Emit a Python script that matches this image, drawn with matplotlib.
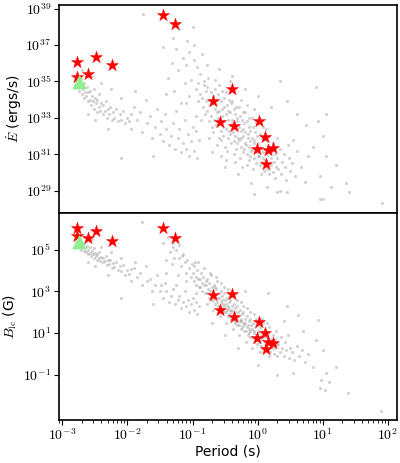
import numpy as np
import matplotlib
matplotlib.use('Agg')
import matplotlib.pyplot as plt
from matplotlib.ticker import FixedLocator, FuncFormatter, LogLocator, NullFormatter

plt.rcParams['mathtext.fontset'] = 'cm'

# Red stars (period s, Edot erg/s, B_lc G)
star_P = [1.66e-3, 1.66e-3, 2.5e-3, 3.3e-3, 5.8e-3, 0.0354, 0.0535,
          0.404, 0.207, 0.269, 0.434, 1.04, 1.28, 0.99, 1.44, 1.72, 1.36]
star_logE = [36.04, 35.22, 35.40, 36.34, 35.91, 38.66, 38.15,
             34.58, 33.92, 32.76, 32.56, 32.84, 31.94, 31.30, 31.23, 31.35, 30.47]
star_logB = [6.04, 5.64, 5.53, 5.90, 5.42, 6.01, 5.56,
             2.86, 2.81, 2.09, 1.79, 1.55, 1.00, 0.77, 0.60, 0.55, 0.24]

# Green triangle
tri_P = [1.8e-3]
tri_logE = [34.95]
tri_logB = [5.37]

# Gray pulsar cloud, top panel (log P, log Edot)
msp_top = [(-2.76, 34.9), (-2.74, 34.5), (-2.72, 34.7), (-2.71, 35.2), (-2.70, 34.3), (-2.68, 34.6),
           (-2.67, 34.1), (-2.66, 34.9), (-2.65, 34.4), (-2.63, 34.2), (-2.62, 34.7), (-2.61, 33.9),
           (-2.60, 34.4), (-2.58, 34.0), (-2.57, 34.5), (-2.56, 33.7), (-2.55, 34.2), (-2.53, 33.9),
           (-2.52, 34.6), (-2.51, 33.5), (-2.50, 34.1), (-2.48, 33.8), (-2.47, 33.3), (-2.46, 34.0),
           (-2.44, 33.6), (-2.43, 34.3), (-2.42, 33.4), (-2.40, 33.8), (-2.38, 33.2), (-2.37, 33.7),
           (-2.35, 33.4), (-2.33, 33.9), (-2.32, 33.0), (-2.30, 33.5), (-2.28, 33.2), (-2.26, 33.6),
           (-2.24, 32.9), (-2.22, 33.3), (-2.20, 33.0), (-2.18, 33.5), (-2.15, 32.8), (-2.12, 33.2),
           (-2.10, 32.9), (-2.07, 33.4), (-2.04, 32.7), (-2.01, 33.0), (-1.98, 32.8), (-1.95, 33.2),
           (-2.70, 35.6), (-2.55, 35.3), (-2.40, 34.9), (-2.25, 34.6), (-2.50, 32.9), (-2.30, 32.4),
           (-2.60, 33.2), (-2.10, 34.1)]
mid_top = [(-1.95, 32.4), (-1.90, 33.6), (-1.85, 32.9), (-1.80, 33.3), (-1.78, 32.2), (-1.72, 34.0),
           (-1.70, 32.7), (-1.65, 33.1), (-1.62, 31.9), (-1.58, 32.5), (-1.55, 33.5), (-1.50, 32.1),
           (-1.48, 32.8), (-1.45, 31.7), (-1.42, 33.2), (-1.40, 32.4), (-1.36, 31.5), (-1.33, 32.0),
           (-1.30, 32.7), (-1.27, 31.3), (-1.25, 33.4), (-1.22, 31.9), (-1.20, 32.4), (-1.17, 31.1),
           (-1.15, 31.6), (-1.12, 32.9), (-1.10, 31.3), (-1.07, 32.1), (-1.05, 30.9), (-1.02, 31.7),
           (-1.00, 32.5), (-0.98, 31.2), (-0.95, 33.1), (-0.93, 30.8), (-0.90, 31.8), (-1.60, 30.9),
           (-2.10, 30.8), (-1.88, 34.5), (-1.40, 34.3), (-1.10, 33.8), (-0.95, 32.3)]
young_top = [(-1.76, 38.7), (-1.30, 37.4), (-1.25, 36.8), (-1.20, 37.9), (-1.15, 36.3), (-1.10, 35.9),
             (-1.08, 37.2), (-1.05, 36.6), (-1.22, 35.6), (-1.32, 36.0), (-1.12, 34.9), (-1.00, 38.0),
             (-1.28, 34.5), (-1.18, 33.8), (-1.38, 35.2), (-1.45, 36.9)]
main_top = [(-1.02, 35.1), (-0.98, 36.2), (-0.95, 34.6), (-0.93, 35.8), (-0.91, 33.9), (-1.05, 34.2),
            (-0.97, 37.0), (-0.92, 34.9), (-0.88, 35.4), (-0.86, 34.1), (-0.85, 36.5), (-0.84, 33.6),
            (-0.83, 34.8), (-0.82, 35.0), (-0.81, 33.2), (-0.80, 34.5), (-0.87, 32.9), (-0.89, 34.3),
            (-0.79, 33.9), (-0.78, 34.7), (-0.77, 33.4), (-0.76, 35.2), (-0.75, 34.0), (-0.74, 32.8),
            (-0.73, 33.7), (-0.72, 34.4), (-0.71, 33.1), (-0.70, 32.5), (-0.78, 35.9), (-0.74, 31.9),
            (-0.69, 33.8), (-0.68, 34.2), (-0.67, 32.9), (-0.66, 33.5), (-0.65, 34.6), (-0.64, 32.6),
            (-0.63, 33.3), (-0.62, 34.0), (-0.61, 33.0), (-0.60, 31.9), (-0.68, 32.2), (-0.66, 35.1),
            (-0.63, 31.5), (-0.61, 34.3), (-0.59, 33.4), (-0.58, 32.7), (-0.57, 33.9), (-0.56, 32.3),
            (-0.55, 33.1), (-0.54, 34.5), (-0.53, 32.0), (-0.52, 33.6), (-0.51, 32.8), (-0.50, 31.4),
            (-0.59, 34.8), (-0.57, 31.8), (-0.55, 33.5), (-0.53, 32.5), (-0.51, 34.1), (-0.56, 30.9),
            (-0.49, 33.2), (-0.48, 32.4), (-0.47, 33.7), (-0.46, 31.9), (-0.45, 32.9), (-0.44, 34.0),
            (-0.43, 32.1), (-0.42, 33.3), (-0.41, 31.6), (-0.40, 32.7), (-0.49, 34.4), (-0.47, 31.2),
            (-0.45, 33.4), (-0.43, 32.6), (-0.41, 33.8), (-0.48, 30.7), (-0.44, 32.3), (-0.42, 35.0),
            (-0.39, 32.9), (-0.38, 32.2), (-0.37, 33.5), (-0.36, 31.7), (-0.35, 32.6), (-0.34, 33.2),
            (-0.33, 31.3), (-0.32, 32.4), (-0.31, 33.0), (-0.30, 31.9), (-0.39, 33.9), (-0.37, 31.0),
            (-0.35, 32.0), (-0.33, 33.6), (-0.31, 32.8), (-0.36, 34.4), (-0.34, 30.6), (-0.32, 31.6),
            (-0.29, 32.5), (-0.28, 31.8), (-0.27, 33.1), (-0.26, 31.4), (-0.25, 32.3), (-0.24, 32.9),
            (-0.23, 31.1), (-0.22, 32.0), (-0.21, 32.7), (-0.20, 31.6), (-0.29, 33.6), (-0.27, 30.8),
            (-0.25, 31.9), (-0.23, 33.3), (-0.21, 31.3), (-0.26, 34.0), (-0.24, 30.3), (-0.22, 32.4),
            (-0.19, 32.2), (-0.18, 31.5), (-0.17, 32.8), (-0.16, 31.0), (-0.15, 31.9), (-0.14, 32.5),
            (-0.13, 30.7), (-0.12, 31.7), (-0.11, 32.3), (-0.10, 31.2), (-0.19, 33.3), (-0.17, 30.4),
            (-0.15, 32.1), (-0.13, 33.0), (-0.11, 30.9), (-0.16, 33.7), (-0.14, 31.4),
            (-0.09, 31.9), (-0.08, 31.3), (-0.07, 32.5), (-0.06, 30.8), (-0.05, 31.6), (-0.04, 32.2),
            (-0.03, 30.5), (-0.02, 31.4), (-0.01, 32.0), (0.00, 30.9), (-0.09, 33.0), (-0.07, 30.2),
            (-0.05, 31.8), (-0.03, 32.7), (-0.01, 31.1), (-0.06, 33.5),
            (0.01, 31.6), (0.02, 30.9), (0.03, 32.1), (0.04, 30.4), (0.05, 31.3), (0.06, 31.9),
            (0.07, 30.6), (0.08, 31.1), (0.09, 32.5), (0.10, 30.1), (0.03, 31.4), (0.05, 29.9),
            (0.07, 32.8), (0.09, 30.8),
            (0.11, 31.3), (0.12, 30.7), (0.13, 31.8), (0.14, 30.2), (0.15, 31.0), (0.16, 31.5),
            (0.17, 30.5), (0.18, 29.9), (0.19, 31.2), (0.20, 30.8), (0.13, 32.4), (0.17, 32.0),
            (0.21, 30.4), (0.22, 31.1), (0.23, 30.0), (0.24, 31.6), (0.25, 30.6), (0.26, 29.7),
            (0.27, 31.0), (0.28, 30.3), (0.29, 31.9), (0.30, 30.8),
            (0.32, 30.2), (0.34, 31.3), (0.36, 29.9), (0.38, 30.6), (0.40, 31.0), (0.42, 30.3),
            (0.44, 29.6), (0.46, 31.5), (0.48, 30.8), (0.50, 30.1),
            (0.53, 30.5), (0.57, 29.8), (0.61, 31.2), (0.66, 30.3), (0.72, 29.5), (0.78, 30.9),
            (0.55, 31.8)]
sparse_top = [(-0.60, 35.7), (-0.40, 35.3), (-0.20, 34.6), (0.00, 34.2), (0.20, 33.6), (0.35, 35.0),
              (0.60, 33.2), (0.90, 34.7), (0.45, 33.9), (0.75, 32.6), (1.00, 32.0), (0.85, 31.4),
              (1.05, 30.9), (-0.70, 31.1), (-0.50, 30.3), (-0.30, 29.9), (-0.10, 29.4), (0.15, 29.2),
              (0.35, 29.0), (-0.05, 28.8), (0.95, 29.8), (1.12, 29.2), (1.20, 30.4), (1.35, 29.4),
              (1.05, 33.2), (0.92, 32.8), (0.95, 28.53), (1.01, 28.53), (1.91, 28.35), (1.40, 28.9),
              (0.29, 28.93), (0.45, 28.93)]

# Gray pulsar cloud, bottom panel (log P, log B_lc)
msp_bot = [(-2.76, 5.3), (-2.74, 5.1), (-2.72, 5.4), (-2.71, 5.0), (-2.70, 5.25), (-2.68, 5.15),
           (-2.67, 4.95), (-2.66, 5.3), (-2.65, 5.05), (-2.63, 4.9), (-2.62, 5.15), (-2.61, 4.8),
           (-2.60, 5.0), (-2.58, 4.85), (-2.57, 5.1), (-2.56, 4.7), (-2.55, 4.95), (-2.53, 4.8),
           (-2.52, 5.05), (-2.51, 4.6), (-2.50, 4.85), (-2.48, 4.7), (-2.47, 4.5), (-2.46, 4.8),
           (-2.44, 4.6), (-2.43, 4.9), (-2.42, 4.45), (-2.40, 4.65), (-2.38, 4.4), (-2.37, 4.6),
           (-2.35, 4.45), (-2.33, 4.7), (-2.32, 4.25), (-2.30, 4.5), (-2.28, 4.3), (-2.26, 4.5),
           (-2.24, 4.1), (-2.22, 4.35), (-2.20, 4.15), (-2.18, 4.4), (-2.15, 4.0), (-2.12, 4.2),
           (-2.10, 3.95), (-2.07, 4.25), (-2.04, 3.8), (-2.01, 4.0), (-1.98, 3.85), (-1.95, 4.05),
           (-2.70, 5.7), (-2.55, 5.5), (-2.40, 5.1), (-2.25, 4.9), (-2.50, 4.2), (-2.30, 3.8),
           (-2.60, 4.4), (-2.10, 4.6)]
mid_bot = [(-1.95, 3.5), (-1.90, 4.1), (-1.85, 3.7), (-1.80, 3.9), (-1.78, 3.3), (-1.72, 4.2),
           (-1.70, 3.5), (-1.65, 3.6), (-1.62, 3.0), (-1.58, 3.3), (-1.55, 3.8), (-1.50, 3.0),
           (-1.48, 3.3), (-1.45, 2.7), (-1.42, 3.4), (-1.40, 3.0), (-1.36, 2.5), (-1.33, 2.8),
           (-1.30, 3.1), (-1.27, 2.4), (-1.25, 3.3), (-1.22, 2.6), (-1.20, 2.8), (-1.17, 2.2),
           (-1.15, 2.5), (-1.12, 3.0), (-1.10, 2.3), (-1.07, 2.6), (-1.05, 2.0), (-1.02, 2.4),
           (-1.00, 2.7), (-0.98, 2.1), (-0.95, 2.9), (-0.93, 1.9), (-0.90, 2.3), (-1.60, 2.4),
           (-2.10, 2.66), (-1.88, 4.4), (-1.40, 3.9), (-1.10, 3.5), (-0.95, 2.5)]
young_bot = [(-1.77, 6.34), (-1.45, 5.3), (-1.38, 5.6), (-1.35, 4.9), (-1.30, 5.1), (-1.28, 4.6),
             (-1.25, 5.5), (-1.20, 5.2), (-1.16, 4.7), (-1.32, 4.3), (-1.40, 4.5)]
main_bot = [(-1.25, 5.0), (-1.20, 4.6), (-1.18, 4.2), (-1.15, 4.8), (-1.12, 4.4), (-1.10, 3.9),
            (-1.08, 4.5), (-1.05, 4.1), (-1.03, 3.7), (-1.01, 4.3), (-1.30, 5.3), (-1.22, 3.8),
            (-0.99, 3.9), (-0.98, 3.5), (-0.97, 4.2), (-0.95, 3.7), (-0.94, 3.3), (-0.93, 4.0),
            (-0.92, 3.6), (-0.91, 4.4), (-0.90, 3.2),
            (-0.89, 3.6), (-0.88, 3.2), (-0.87, 3.9), (-0.86, 3.4), (-0.85, 3.0), (-0.84, 3.7),
            (-0.83, 3.3), (-0.82, 4.1), (-0.81, 2.9), (-0.80, 3.5),
            (-0.79, 3.3), (-0.78, 2.9), (-0.77, 3.6), (-0.76, 3.1), (-0.75, 2.7), (-0.74, 3.4),
            (-0.73, 3.0), (-0.72, 3.8), (-0.71, 2.6), (-0.70, 3.2), (-0.77, 2.4), (-0.73, 3.9),
            (-0.69, 3.0), (-0.68, 2.6), (-0.67, 3.3), (-0.66, 2.8), (-0.65, 2.4), (-0.64, 3.1),
            (-0.63, 2.7), (-0.62, 3.5), (-0.61, 2.3), (-0.60, 2.9), (-0.68, 2.1), (-0.64, 3.7),
            (-0.62, 2.5), (-0.66, 3.2),
            (-0.59, 2.7), (-0.58, 2.3), (-0.57, 3.0), (-0.56, 2.5), (-0.55, 2.1), (-0.54, 2.8),
            (-0.53, 2.4), (-0.52, 3.2), (-0.51, 2.0), (-0.50, 2.6), (-0.58, 1.8), (-0.56, 3.4),
            (-0.54, 2.2), (-0.52, 2.9), (-0.55, 2.6), (-0.51, 2.3),
            (-0.49, 2.4), (-0.48, 2.0), (-0.47, 2.7), (-0.46, 2.2), (-0.45, 1.8), (-0.44, 2.5),
            (-0.43, 2.1), (-0.42, 2.9), (-0.41, 1.7), (-0.40, 2.3), (-0.48, 1.5), (-0.46, 3.1),
            (-0.44, 1.9), (-0.42, 2.6), (-0.45, 2.3), (-0.41, 2.0), (-0.47, 2.1),
            (-0.39, 2.1), (-0.38, 1.7), (-0.37, 2.4), (-0.36, 1.9), (-0.35, 1.5), (-0.34, 2.2),
            (-0.33, 1.8), (-0.32, 2.6), (-0.31, 1.4), (-0.30, 2.0), (-0.38, 1.2), (-0.36, 2.8),
            (-0.34, 1.6), (-0.32, 2.3), (-0.35, 2.0), (-0.31, 1.7), (-0.37, 1.9),
            (-0.29, 1.8), (-0.28, 1.4), (-0.27, 2.1), (-0.26, 1.6), (-0.25, 1.2), (-0.24, 1.9),
            (-0.23, 1.5), (-0.22, 2.3), (-0.21, 1.1), (-0.20, 1.7), (-0.28, 0.9), (-0.26, 2.5),
            (-0.24, 1.3), (-0.22, 2.0), (-0.25, 1.7), (-0.21, 1.4), (-0.27, 1.6),
            (-0.19, 1.5), (-0.18, 1.1), (-0.17, 1.8), (-0.16, 1.3), (-0.15, 0.9), (-0.14, 1.6),
            (-0.13, 1.2), (-0.12, 2.0), (-0.11, 0.8), (-0.10, 1.4), (-0.18, 0.6), (-0.16, 2.2),
            (-0.14, 1.0), (-0.12, 1.7), (-0.15, 1.4), (-0.11, 1.1),
            (-0.09, 1.2), (-0.08, 0.8), (-0.07, 1.5), (-0.06, 1.0), (-0.05, 0.6), (-0.04, 1.3),
            (-0.03, 0.9), (-0.02, 1.7), (-0.01, 0.5), (0.00, 1.1), (-0.08, 0.3), (-0.06, 1.9),
            (-0.04, 0.7), (-0.02, 1.4), (-0.05, 1.1),
            (0.01, 1.0), (0.02, 0.6), (0.03, 1.3), (0.04, 0.8), (0.05, 0.4), (0.06, 1.1),
            (0.07, 0.7), (0.08, 1.5), (0.09, 0.3), (0.10, 0.9), (0.03, 0.1), (0.07, 1.7),
            (0.05, 0.9),
            (0.11, 0.8), (0.12, 0.5), (0.13, 1.1), (0.14, 0.6), (0.15, 0.2), (0.16, 0.9),
            (0.17, 0.5), (0.18, 1.3), (0.19, 0.1), (0.20, 0.7), (0.14, 1.5), (0.18, -0.1),
            (0.21, 0.6), (0.22, 0.3), (0.23, 0.9), (0.24, 0.4), (0.25, 0.0), (0.26, 0.7),
            (0.27, 0.3), (0.28, 1.1), (0.29, 0.5), (0.30, -0.1),
            (0.32, 0.5), (0.34, 0.1), (0.36, 0.8), (0.38, 0.3), (0.40, -0.1), (0.42, 0.6),
            (0.44, 0.2), (0.46, 0.9), (0.48, -0.2), (0.50, 0.3),
            (0.53, 0.1), (0.56, -0.3), (0.60, 0.4), (0.64, -0.1), (0.68, 0.2), (0.72, -0.4),
            (0.78, 0.0)]
sparse_bot = [(0.62, 1.87), (0.93, 1.63), (0.90, 0.67), (0.16, 2.9), (-0.96, 4.42), (0.40, 1.6),
              (0.70, 1.1), (1.00, 0.2), (0.85, -0.6), (-0.50, 0.9), (-0.30, 0.3), (0.00, -0.5),
              (0.30, -1.0), (-0.70, 1.5), (0.55, -0.9), (0.45, 2.3), (-0.20, 3.0),
              (0.98, -1.24), (1.10, -1.32), (0.95, -1.63), (1.03, -1.71), (1.39, -1.87),
              (1.90, -2.71), (1.20, -0.6), (1.05, -0.9)]

top_cloud = np.array(msp_top + mid_top + young_top + main_top + sparse_top)
bot_cloud = np.array(msp_bot + mid_bot + young_bot + main_bot + sparse_bot)

fig = plt.figure(figsize=(4.0, 4.63), dpi=100)
ax1 = fig.add_axes([0.1475, 0.541, 0.845, 0.448])
ax2 = fig.add_axes([0.1475, 0.093, 0.845, 0.448], sharex=ax1)

gray_kw = dict(s=5, color='gray', alpha=0.35, linewidths=0)
star_kw = dict(marker='*', s=85, color='red', edgecolors='red', linewidths=0.3, zorder=3)
tri_kw = dict(marker='^', s=80, color='lightgreen', zorder=4)

ax1.scatter(10 ** top_cloud[:, 0], 10 ** top_cloud[:, 1], **gray_kw)
ax1.scatter(star_P, 10 ** np.array(star_logE), **star_kw)
ax1.scatter(tri_P, 10 ** np.array(tri_logE), **tri_kw)

ax2.scatter(10 ** bot_cloud[:, 0], 10 ** bot_cloud[:, 1], **gray_kw)
ax2.scatter(star_P, 10 ** np.array(star_logB), **star_kw)
ax2.scatter(tri_P, 10 ** np.array(tri_logB), **tri_kw)

for ax in (ax1, ax2):
    ax.set_xscale('log')
    ax.set_yscale('log')
    for sp in ax.spines.values():
        sp.set_linewidth(1.2)
    ax.tick_params(which='both', direction='out', labelsize=10, top=False, right=False, pad=2)

exp_fmt = FuncFormatter(lambda v, pos: r'$10^{%d}$' % round(np.log10(v)))

ax1.set_xlim(10 ** -3.05, 10 ** 2.14)
ax1.set_ylim(10 ** 27.8, 10 ** 39.19)
ax1.yaxis.set_major_locator(FixedLocator([1e29, 1e31, 1e33, 1e35, 1e37, 1e39]))
ax1.yaxis.set_major_formatter(exp_fmt)
ax1.yaxis.set_minor_locator(FixedLocator([]))
ax1.tick_params(axis='x', which='both', bottom=False, labelbottom=False)
ax1.set_ylabel(r'$\dot{E}$ (ergs/s)', fontsize=10, labelpad=1)

ax2.set_ylim(10 ** -3.15, 10 ** 6.77)
ax2.yaxis.set_major_locator(FixedLocator([1e-1, 1e1, 1e3, 1e5]))
ax2.yaxis.set_major_formatter(exp_fmt)
ax2.yaxis.set_minor_locator(FixedLocator([]))
ax2.xaxis.set_major_locator(LogLocator(base=10, numticks=10))
ax2.xaxis.set_major_formatter(exp_fmt)
ax2.xaxis.set_minor_locator(LogLocator(base=10, subs=np.arange(2, 10), numticks=20))
ax2.xaxis.set_minor_formatter(NullFormatter())
ax2.set_ylabel(r'$B_{\rm lc}$ (G)', fontsize=10, labelpad=3)
ax2.set_xlabel('Period (s)', fontsize=10, labelpad=1)

fig.savefig('out.png', dpi=100)
